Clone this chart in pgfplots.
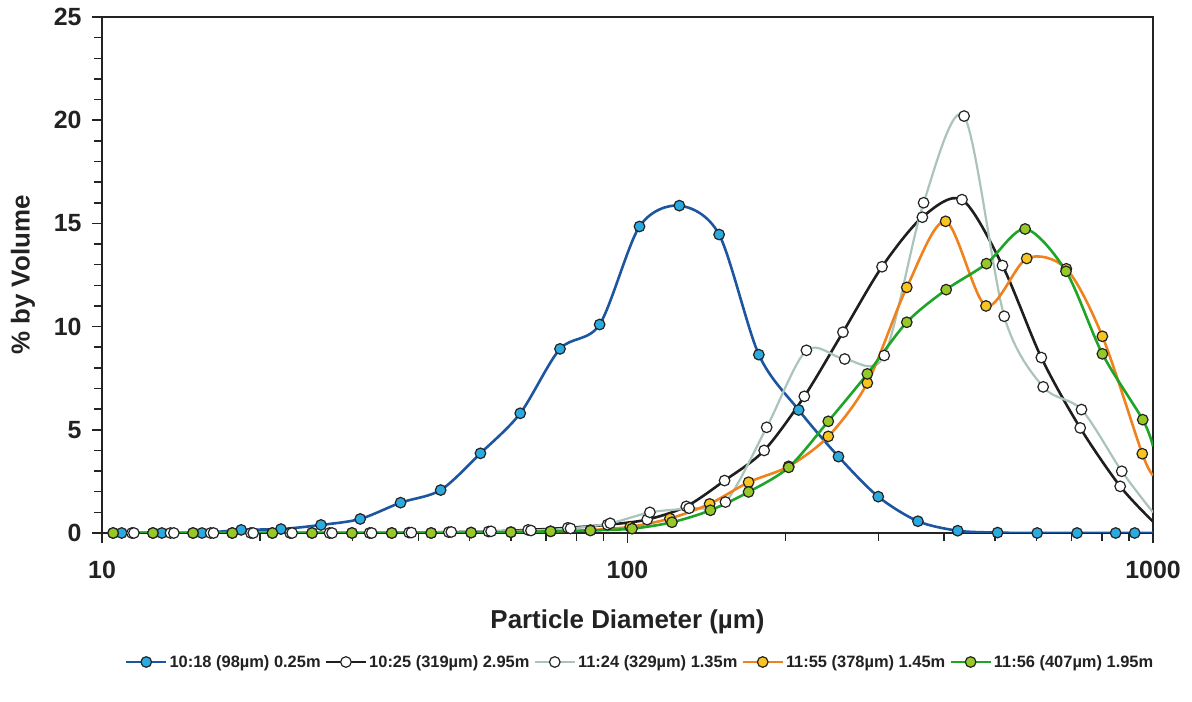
\documentclass[border=0pt]{standalone}
\usepackage{pgfplots}
\usepackage{pgfplotstable}
\pgfplotsset{compat=1.18}
\usepackage{fontspec}
\setmainfont{Liberation Sans}
\definecolor{bluel}{RGB}{28,86,160}
\definecolor{bluem}{RGB}{41,171,226}
\definecolor{blackl}{RGB}{30,30,30}
\definecolor{greyl}{RGB}{170,196,186}
\definecolor{orangel}{RGB}{240,130,30}
\definecolor{orangem}{RGB}{250,196,30}
\definecolor{greenl}{RGB}{30,165,40}
\definecolor{greenm}{RGB}{150,200,40}
\definecolor{edge}{RGB}{35,35,35}
\definecolor{txt}{RGB}{34,34,34}

\pgfplotstableread{
x y
10.9 0
13.0 0
15.5 0
18.4 0.15
21.9 0.19
26.1 0.39
31.0 0.68
37.0 1.47
44.1 2.08
52.5 3.86
62.5 5.8
74.4 8.92
88.5 10.1
105.4 14.85
125.5 15.86
149.4 14.46
177.8 8.64
211.7 5.96
252 3.70
300 1.76
357 0.57
425 0.11
506 0.02
602 0
717 0
849 0
923 0
1000 0
}\bluedata

\pgfplotstableread{
x y
11.4 0
13.5 0
16.1 0
19.2 0
22.8 0
27.1 0
32.3 0
38.4 0.02
45.7 0.04
54.4 0.07
64.7 0.15
77.0 0.25
91.6 0.4
109 0.65
129.4 1.29
153 2.54
182 4.0
217 6.62
257 9.73
305 12.9
364 15.3
433 16.15
517 12.96
613 8.5
727 5.09
866 2.26
1000 0.55
}\blackdata

\pgfplotstableread{
x y
11.5 0
13.7 0
16.3 0
19.4 0
23.0 0
27.4 0
32.6 0
38.8 0.02
46.2 0.05
55.0 0.08
65.5 0.12
77.9 0.22
92.7 0.47
110.3 1.0
131 1.2
153.6 1.5
184 5.12
219 8.85
259 8.43
308 8.6
366 16.0
437 20.2
521 10.5
618 7.08
731 5.98
872 2.99
1000 1.0
}\greydata

\pgfplotstableread{
x y
10.5 0
12.5 0
14.9 0
17.7 0
21.1 0
25.1 0
29.9 0
35.6 0
42.3 0
50.4 0.02
60.0 0.04
71.4 0.08
85.0 0.14
101.2 0.3
120.4 0.7
143.3 1.41
170 2.46
202.6 3.23
241 4.68
286 7.27
340 11.9
403 15.1
481 11.0
575 13.3
684 12.8
801 9.53
954 3.84
1000 2.8
}\orangedata

\pgfplotstableread{
x y
10.5 0
12.5 0
14.9 0
17.7 0
21.1 0
25.1 0
29.9 0
35.6 0
42.3 0
50.4 0.02
60.0 0.04
71.4 0.08
85.0 0.12
102 0.21
121.5 0.52
143.8 1.10
170 1.99
202.6 3.18
241 5.41
286 7.71
340 10.21
404 11.79
482 13.05
571 14.73
683 12.68
801 8.68
956 5.49
1000 4.2
}\greendata

\begin{document}
\begin{tikzpicture}
\useasboundingbox (0bp,0bp) rectangle (1192bp,702bp);
\begin{axis}[
  at={(102bp,169bp)}, anchor=south west,
  width=1051bp, height=516bp, scale only axis,
  xmode=log, xmin=10, xmax=1000, ymin=0, ymax=25,
  xtick={10,100,1000}, xticklabels={10,100,1000},
  ytick={0,5,10,15,20,25}, minor y tick num=4,
  tick align=outside, xtick pos=bottom, ytick pos=left,
  major tick length=10bp, minor tick length=8bp,
  every tick/.style={edge, line width=1.5bp},
  axis line style={edge, line width=2bp},
  /pgf/number format/assume math mode=true,
  ticklabel style={font=\fontsize{25}{25}\selectfont\bfseries, text=txt},
  yticklabel style={anchor=east, xshift=-7bp},
  xticklabel style={anchor=north, yshift=-15bp},
  every axis x label/.style={at={(axis description cs:0.5,-0.1725)}, anchor=center},
  every axis y label/.style={at={(axis description cs:-0.0752,0.5)}, rotate=90, anchor=center},
  label style={font=\fontsize{26}{26}\selectfont\bfseries, text=txt},
  xlabel={Particle Diameter (µm)},
  ylabel={\% by Volume},
  legend columns=5,
  legend style={at={(axis description cs:0.512,-0.25)}, anchor=center, draw=none,
    font=\fontsize{16.5}{16.5}\selectfont\bfseries, text=txt,
    /tikz/every even column/.append style={column sep=2bp}},
]
% blue
\addplot[bluel, line width=2.6bp, smooth, no marks,
  legend image code/.code={\draw[bluel, line width=2.6bp] (0bp,0bp) -- (40bp,0bp);
  \draw[edge, fill=bluem, line width=1.2bp] (20bp,0bp) circle (5.3bp);}]
  table[x=x,y=y] {\bluedata};
\addlegendentry{10:18 (98µm) 0.25m}
\addplot[forget plot, only marks, mark=*, mark size=5.3bp, mark options={draw=edge, fill=bluem, line width=1.2bp},
  skip coords between index={27}{28}] table[x=x,y=y] {\bluedata};
% black
\addplot[blackl, line width=2.6bp, smooth, no marks,
  legend image code/.code={\draw[blackl, line width=2.6bp] (0bp,0bp) -- (40bp,0bp);
  \draw[edge, fill=white, line width=1.2bp] (20bp,0bp) circle (5.3bp);}]
  table[x=x,y=y] {\blackdata};
\addlegendentry{10:25 (319µm) 2.95m}
\addplot[forget plot, only marks, mark=*, mark size=5.3bp, mark options={draw=edge, fill=white, line width=1.2bp},
  skip coords between index={26}{27}] table[x=x,y=y] {\blackdata};
% grey
\addplot[greyl, line width=2.2bp, smooth, no marks,
  legend image code/.code={\draw[greyl, line width=2.6bp] (0bp,0bp) -- (40bp,0bp);
  \draw[edge, fill=white, line width=1.2bp] (20bp,0bp) circle (5.3bp);}]
  table[x=x,y=y] {\greydata};
\addlegendentry{11:24 (329µm) 1.35m}
\addplot[forget plot, only marks, mark=*, mark size=5.3bp, mark options={draw=edge, fill=white, line width=1.2bp},
  skip coords between index={26}{27}] table[x=x,y=y] {\greydata};
% orange
\addplot[orangel, line width=2.6bp, smooth, no marks,
  legend image code/.code={\draw[orangel, line width=2.6bp] (0bp,0bp) -- (40bp,0bp);
  \draw[edge, fill=orangem, line width=1.2bp] (20bp,0bp) circle (5.3bp);}]
  table[x=x,y=y] {\orangedata};
\addlegendentry{11:55 (378µm) 1.45m}
\addplot[forget plot, only marks, mark=*, mark size=5.3bp, mark options={draw=edge, fill=orangem, line width=1.2bp},
  skip coords between index={27}{28}] table[x=x,y=y] {\orangedata};
% green
\addplot[greenl, line width=2.6bp, smooth, no marks,
  legend image code/.code={\draw[greenl, line width=2.6bp] (0bp,0bp) -- (40bp,0bp);
  \draw[edge, fill=greenm, line width=1.2bp] (20bp,0bp) circle (5.3bp);}]
  table[x=x,y=y] {\greendata};
\addlegendentry{11:56 (407µm) 1.95m}
\addplot[forget plot, only marks, mark=*, mark size=5.3bp, mark options={draw=edge, fill=greenm, line width=1.2bp},
  skip coords between index={27}{28}] table[x=x,y=y] {\greendata};
\end{axis}
\end{tikzpicture}
\end{document}
